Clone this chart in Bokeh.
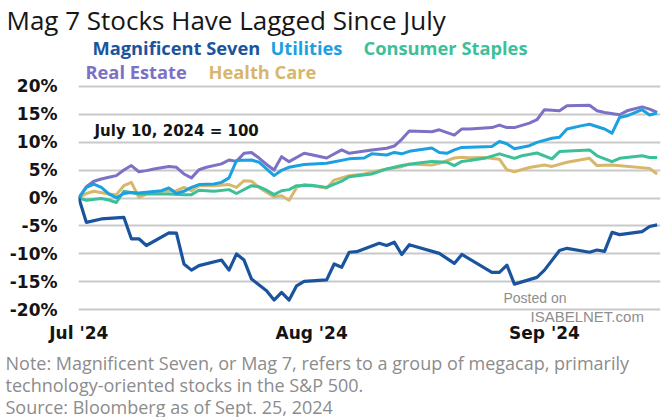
from datetime import date
from bokeh.plotting import figure
from bokeh.layouts import column
from bokeh.models import Range1d, FixedTicker, PrintfTickFormatter, Label
from bokeh.embed import file_html
from bokeh.resources import INLINE

# ---------------- data (days since July 10, 2024; % change, July 10, 2024 = 100) -------------
start_date = date(2024, 7, 10)

mag7_day = [0, 1, 3, 6, 7, 8, 9, 12, 13, 14, 15, 16, 19, 20, 21, 22, 23, 25, 26, 27, 28, 29, 30,
            33, 34, 35, 36, 37, 40, 41, 42, 43, 44, 48, 50, 51, 55, 56, 57, 58, 61, 62, 64, 65,
            68, 69, 70, 71, 72, 75, 76, 77]
mag7_val = [0, -4.35, -3.75, -3.45, -7.3, -7.3, -8.5, -6.25, -6.3, -11.8, -12.9, -12.1, -11.1,
            -12.9, -10.0, -11.1, -14.5, -16.6, -18.25, -16.9, -18.25, -15.7, -14.9, -14.65, -11.8,
            -12.4, -9.7, -9.6, -8.1, -8.5, -7.9, -10.1, -8.35, -9.9, -11.7, -10.1, -13.3, -13.3,
            -12.0, -15.4, -14.2, -12.9, -9.4, -9.0, -9.7, -9.3, -9.55, -6.15, -6.55, -6.0, -5.1, -4.8]

util_day = [0, 1, 2, 3, 4, 5, 6, 7, 8, 11, 12, 13, 14, 15, 16, 18, 19, 20, 21, 23, 24, 25, 26, 27,
            28, 30, 33, 36, 38, 39, 41, 42, 43, 44, 47, 48, 49, 50, 51, 55, 56, 57, 58, 60, 61,
            63, 64, 65, 67, 68, 70, 71, 72, 73, 75, 76, 77]
util_val = [0, 1.9, 2.5, 1.9, 0.75, 0.05, 0.8, 1.0, 0.9, 1.3, 1.8, 0.8, 1.2, 1.9, 2.4, 2.5, 2.8,
            3.6, 6.7, 6.8, 6.4, 5.2, 4.0, 4.95, 5.5, 6.0, 6.2, 7.0, 7.15, 7.9, 7.7, 8.15, 7.9,
            8.35, 8.95, 8.15, 8.0, 8.6, 9.05, 9.2, 10.1, 9.7, 8.8, 9.35, 9.95, 10.7, 10.85, 12.35,
            12.95, 13.2, 12.35, 11.6, 14.4, 14.7, 15.8, 14.85, 15.2]

staples_day = [0, 1, 3, 4, 5, 6, 8, 10, 12, 14, 15, 16, 18, 20, 21, 23, 24, 25, 26, 27, 28, 29,
               31, 33, 35, 36, 39, 41, 43, 45, 47, 49, 50, 51, 52, 54, 56, 58, 59, 61, 63, 64,
               68, 69, 71, 72, 75, 76, 77]
staples_val = [0, -0.4, -0.1, -0.35, -0.8, 1.2, 0.7, 0.7, 0.7, 0.6, 0.6, 1.4, 1.2, 1.5, 0.8, 2.2,
               2.0, 1.4, 0.6, 1.3, 1.5, 2.2, 2.3, 1.9, 3.0, 3.8, 4.3, 5.2, 5.8, 6.2, 6.55, 6.4,
               5.8, 6.55, 6.7, 7.1, 7.9, 7.1, 7.55, 8.05, 7.0, 8.3, 8.6, 7.55, 6.5, 7.1, 7.55,
               7.25, 7.25]

reit_day = [0, 1, 2, 3, 4, 5, 6, 7, 8, 9, 10, 12, 13, 14, 15, 16, 17, 19, 20, 21, 22, 23, 24, 25,
            26, 27, 28, 30, 31, 33, 35, 36, 39, 41, 42, 43, 44, 47, 48, 50, 51, 52, 55, 56, 57,
            58, 60, 61, 62, 64, 65, 68, 69, 70, 72, 73, 75, 76, 77]
reit_val = [0, 2.0, 3.0, 3.4, 3.7, 4.0, 5.0, 5.8, 4.7, 4.9, 5.2, 5.65, 5.5, 4.3, 3.6, 5.05, 5.5,
            6.1, 6.8, 6.55, 8.0, 8.15, 7.15, 6.0, 5.0, 7.4, 6.5, 8.0, 7.75, 7.15, 8.6, 8.0, 8.6,
            8.9, 9.3, 10.5, 12.0, 11.85, 12.2, 11.25, 12.35, 12.35, 12.6, 13.05, 12.6, 12.6, 13.4,
            14.0, 15.8, 15.6, 16.5, 16.6, 15.6, 15.3, 14.9, 15.6, 16.3, 15.9, 15.3]

health_day = [0, 1, 2, 4, 5, 6, 7, 8, 9, 11, 13, 14, 15, 16, 18, 20, 21, 22, 23, 24, 26, 27, 28,
              29, 30, 31, 33, 34, 36, 38, 39, 41, 43, 44, 47, 48, 50, 51, 52, 54, 56, 57, 58, 60,
              62, 63, 65, 68, 69, 71, 76, 77]
health_val = [0, 0.8, 1.2, 0.7, 0.6, 2.2, 2.8, 0.1, 0.7, 1.2, 1.3, 1.9, 1.3, 2.2, 2.2, 2.4, 1.9,
              3.1, 3.0, 1.9, 0.2, 0.4, -0.4, 1.9, 2.4, 2.2, 1.8, 3.2, 4.0, 4.3, 4.6, 5.2, 5.6,
              6.1, 5.9, 6.2, 7.15, 7.3, 7.2, 7.25, 6.95, 5.05, 4.7, 5.45, 5.9, 5.65, 6.4, 7.1,
              5.8, 5.9, 5.3, 4.3]

series_names = ["Magnificent Seven", "Utilities", "Consumer Staples", "Real Estate", "Health Care"]
month_labels = ["Jul '24", "Aug '24", "Sep '24"]
month_dates = [date(2024, 7, 10), date(2024, 8, 10), date(2024, 9, 10)]
y_ticks = [-20, -15, -10, -5, 0, 5, 10, 15, 20]

title_text = "Mag 7 Stocks Have Lagged Since July"
base_note = "July 10, 2024 = 100"
notes = ["Note: Magnificent Seven, or Mag 7, refers to a group of megacap, primarily",
         "technology-oriented stocks in the S&P 500.",
         "Source: Bloomberg as of Sept. 25, 2024"]

# ---------------- styling ----------------
C_MAG7 = "#1b549e"
C_UTIL = "#1ba1e2"
C_STAP = "#3cc09a"
C_REIT = "#7b72c5"
C_HLTH = "#d7b76c"
GRID = "#c9c9c9"
NOTE = "#8c8c8c"
INK = "#141414"

W = 670
TOP_H = 36          # title strip
MAIN_H = 310        # chart (legend inside frame, x labels below)
BOT_H = 417 - TOP_H - MAIN_H   # footnotes

LEFT, RIGHT, BOTTOM = 78, 10, 24
XR0, XR1 = -0.04, 77.45
YR0, YR1 = -22.27, 28.89


def text_strip(height):
    f = figure(width=W, height=height, output_backend="svg", toolbar_location=None,
               x_range=Range1d(0, W), y_range=Range1d(height, 0),
               x_axis_location=None, y_axis_location=None, min_border=0,
               frame_align=False)
    f.outline_line_color = None
    f.xgrid.visible = False
    f.ygrid.visible = False
    return f


# ---- title strip ----
top = text_strip(TOP_H)
top.add_layout(Label(x=6, y=19, text=title_text, text_font="Open Sans", text_font_size="26px",
                     text_color="#161616", text_baseline="middle", text_align="left"))

# ---- main chart ----
p = figure(width=W, height=MAIN_H, output_backend="svg", toolbar_location=None,
           x_range=Range1d(XR0, XR1), y_range=Range1d(YR0, YR1),
           min_border_left=LEFT, min_border_right=RIGHT,
           min_border_top=0, min_border_bottom=BOTTOM, frame_align=False)
p.outline_line_color = None
p.xgrid.visible = False
p.ygrid.grid_line_color = GRID
p.ygrid.grid_line_width = 2

yax = p.yaxis[0]
yax.ticker = FixedTicker(ticks=y_ticks)
yax.formatter = PrintfTickFormatter(format="%d%%")
yax.axis_line_color = None
yax.major_tick_line_color = None
yax.minor_tick_line_color = None
yax.major_tick_out = 0
yax.major_tick_in = 0
yax.major_label_standoff = 21
yax.major_label_text_font = "DejaVu Sans"
yax.major_label_text_font_style = "bold"
yax.major_label_text_font_size = "17px"
yax.major_label_text_color = INK

month_pos = [(d - start_date).days for d in month_dates]
xax = p.xaxis[0]
xax.ticker = FixedTicker(ticks=month_pos)
xax.major_label_overrides = {pos: lab for pos, lab in zip(month_pos, month_labels)}
xax.axis_line_color = None
xax.major_tick_line_color = None
xax.minor_tick_line_color = None
xax.major_tick_out = 0
xax.major_tick_in = 0
xax.major_label_standoff = 0
xax.major_label_text_font = "DejaVu Sans"
xax.major_label_text_font_style = "bold"
xax.major_label_text_font_size = "17px"
xax.major_label_text_color = INK

lw = 3
p.line(health_day, health_val, line_color=C_HLTH, line_width=lw, line_join="round")
p.line(staples_day, staples_val, line_color=C_STAP, line_width=lw, line_join="round")
p.line(reit_day, reit_val, line_color=C_REIT, line_width=lw, line_join="round")
p.line(util_day, util_val, line_color=C_UTIL, line_width=lw, line_join="round")
p.line(mag7_day, mag7_val, line_color=C_MAG7, line_width=3.2, line_join="round")

# page-pixel -> data helpers for the main frame (frame top at page y = TOP_H)
FX0, FW = LEFT, W - LEFT - RIGHT
FY0, FH = TOP_H, MAIN_H - BOTTOM


def dx(px):
    return XR0 + (px - FX0) * (XR1 - XR0) / FW


def dy(py):
    return YR1 - (py - FY0) * (YR1 - YR0) / FH


def label(text, px, py, size, color, font="Open Sans", style="normal"):
    p.add_layout(Label(x=dx(px), y=dy(py), text=text, text_font=font, text_font_style=style,
                       text_font_size=size, text_color=color, text_baseline="middle",
                       text_align="left"))


legend_colors = [C_MAG7, C_UTIL, C_STAP, C_REIT, C_HLTH]
legend_xy = [(92, 47), (270, 47), (363, 47), (85, 71), (208, 71)]
for name, col, (lx, ly) in zip(series_names, legend_colors, legend_xy):
    label(name, lx, ly, "18.3px", col, style="bold")

label(base_note, 94, 130, "15px", INK, font="DejaVu Sans", style="bold")
label("Posted on", 503, 297, "14px", "#8e8e8e", font="Liberation Sans")
label("ISABELNET.com", 530, 316, "15px", "#8e8e8e", font="Liberation Sans")

# ---- footnote strip ----
bot = text_strip(BOT_H)
for i, t in enumerate(notes):
    bot.add_layout(Label(x=5, y=(362 + 22 * i) - (TOP_H + MAIN_H), text=t, text_font="Open Sans",
                         text_font_size="18px", text_color=NOTE, text_baseline="middle",
                         text_align="left"))

layout = column(top, p, bot, spacing=0)
open("out.html", "w").write(file_html(layout, INLINE))
